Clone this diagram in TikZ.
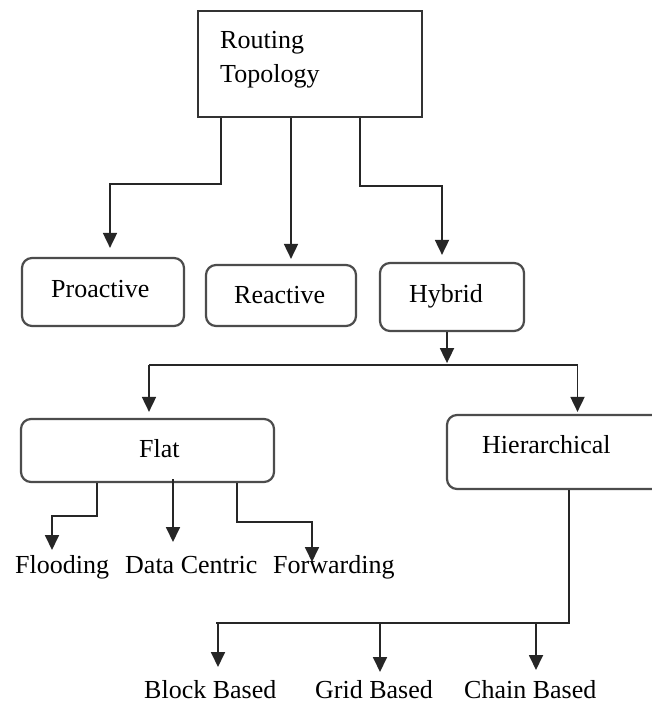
\documentclass[tikz,border=0pt]{standalone}
\usepackage{fontspec}
\setmainfont{Liberation Serif}
\usetikzlibrary{arrows.meta,calc}
\tikzset{
  conn/.style={line width=1.8pt, draw=black!85},
  arr/.style={conn, -{Triangle[width=14pt,length=15pt]}},
  sbox/.style={draw=black!80, line width=2.4pt, fill=white, inner sep=0pt},
  rbox/.style={draw=black!70, line width=2.2pt, rounded corners=10pt, fill=white, inner sep=0pt},
  lbl/.style={inner sep=0pt, anchor=base west, font=\fontsize{26}{34}\selectfont, text=black}
}
\begin{document}
\begin{tikzpicture}[x=1pt,y=-1pt]
\clip (0,0) rectangle (652,704);
\fill[white] (0,0) rectangle (652,704);
% boxes
\node[sbox, minimum width=224pt, minimum height=106pt] (top) at (310,64) {};
\node[rbox, minimum width=162pt, minimum height=68pt] (proactive) at (103,292) {};
\node[rbox, minimum width=150pt, minimum height=61pt] (reactive) at (281,295.5) {};
\node[rbox, minimum width=144pt, minimum height=68pt] (hybrid) at (452,297) {};
\node[rbox, minimum width=253pt, minimum height=63pt] (flat) at (147.5,450.5) {};
\node[rbox, minimum width=223pt, minimum height=74pt] (hier) at (558.5,452) {};
% texts
\node[lbl] (rt1) at (220,48) {Routing};
\node[lbl] (rt2) at (220,82) {Topology};
\node[lbl] (proT) at (51,297) {Proactive};
\node[lbl] (reaT) at (234,303) {Reactive};
\node[lbl] (hybT) at (409,302) {Hybrid};
\node[lbl] (flatT) at (139,457) {Flat};
\node[lbl] (hierT) at (482,453) {Hierarchical};
\node[lbl] (flooding) at (15,573) {Flooding};
\node[lbl] (datac) at (125,573) {Data Centric};
\node[lbl] (fwd) at (273,573) {Forwarding};
\node[lbl] (blk) at (144,698) {Block Based};
\node[lbl] (grd) at (315,698) {Grid Based};
\node[lbl] (chn) at (464,698) {Chain Based};
% top connectors
\draw[arr] ($(top.south west)+(24,0)$) -- ++(0,66) -| ($(proactive.north)+(7,-9)$);
\coordinate (rin) at ($(reactive.north)+(10,-5)$);
\draw[arr] (rin |- top.south) -- (rin);
\draw[arr] ($(top.south west)+(163,0)$) -- ++(0,68) -| ($(hybrid.north)+(-10,-7)$);
% hybrid to flat / hierarchical
\draw[arr] ($(hybrid.south)+(-5,0)$) -- ($(hybrid.south)+(-5,31)$);
\coordinate (bl) at ($(flat.north)+(1.5,-53)$);
\coordinate (br) at ($(hier.north)+(19,-49)$);
\draw[conn] (bl) -- (br);
\draw[arr] (bl) -- ($(flat.north)+(1.5,-6)$);
\draw[arr] (br) -- ($(hier.north)+(19,-2)$);
% flat children
\draw[arr] ($(flat.south west)+(77,0)$) -- ++(0,33) -| ($(flooding.base west)+(37,-23)$);
\coordinate (dc) at ($(datac.base west)+(48,-31)$);
\draw[arr] ($(dc |- flat.south)+(0,-4)$) -- (dc);
\draw[arr] ($(flat.south west)+(217,0)$) -- ++(0,39) -| ($(fwd.base west)+(39,-11)$);
% hierarchical children
\coordinate (hb) at ($(hier.south)+(10.5,133)$);
\coordinate (ta) at ($(blk.base west)+(74,-31)$);
\coordinate (tb) at ($(grd.base west)+(65,-26)$);
\coordinate (tc) at ($(chn.base west)+(72,-28)$);
\draw[conn] ($(hier.south)+(10.5,0)$) -- (hb) -- ($(ta |- hb)+(-2,0)$);
\draw[arr] (ta |- hb) -- (ta);
\draw[arr] (tb |- hb) -- (tb);
\draw[arr] (tc |- hb) -- (tc);
\end{tikzpicture}
\end{document}
